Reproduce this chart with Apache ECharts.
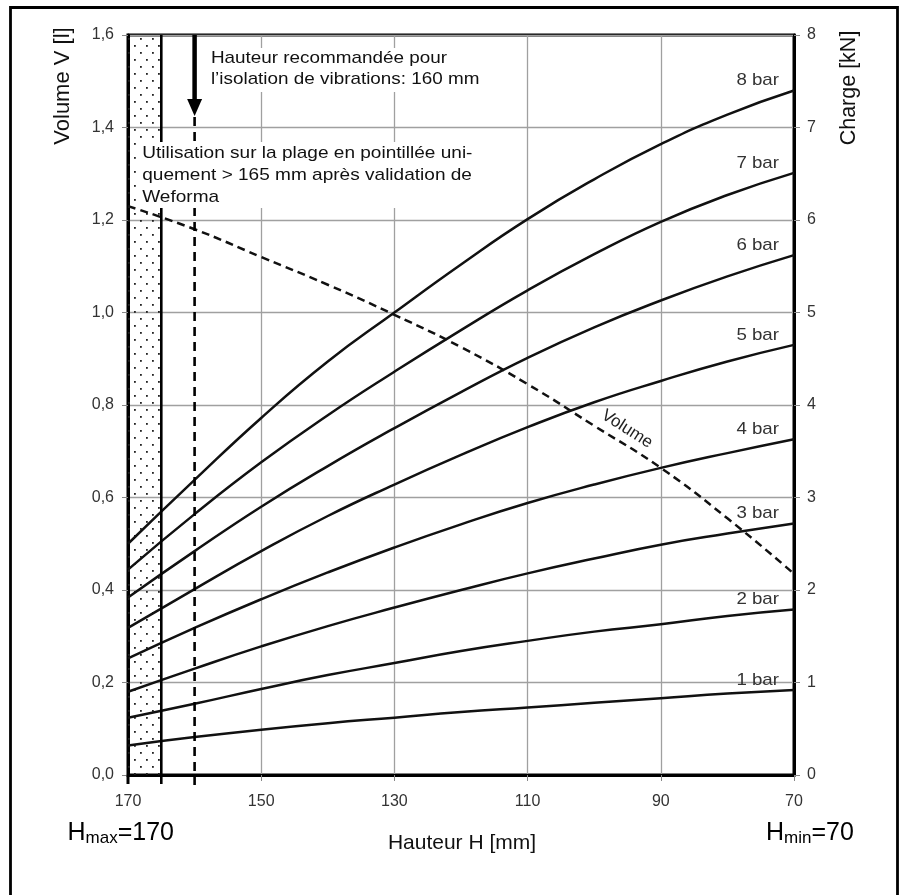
<!DOCTYPE html>
<html><head><meta charset="utf-8">
<script src="https://cdn.jsdelivr.net/npm/echarts@6/dist/echarts.min.js"></script>
<style>html,body{margin:0;padding:0;background:#fff}#c{width:900px;height:895px}</style>
</head><body><div id="c"></div>
<script>
// ---- data ----
const heights   = [170, 160, 150, 140, 130, 120, 110, 100, 90, 80, 70];           // Hauteur H [mm]
const load1bar  = [0.32, 0.41, 0.49, 0.56, 0.62, 0.68, 0.73, 0.78, 0.83, 0.88, 0.92]; // Charge [kN]
const load2bar  = [0.62, 0.77, 0.93, 1.08, 1.21, 1.34, 1.45, 1.55, 1.63, 1.72, 1.79];
const load3bar  = [0.90, 1.15, 1.39, 1.61, 1.81, 2.00, 2.18, 2.34, 2.49, 2.61, 2.72];
const load4bar  = [1.26, 1.59, 1.90, 2.19, 2.46, 2.71, 2.94, 3.14, 3.32, 3.48, 3.63];
const load5bar  = [1.59, 2.01, 2.42, 2.80, 3.14, 3.46, 3.76, 4.03, 4.26, 4.47, 4.65];
const load6bar  = [1.92, 2.42, 2.90, 3.34, 3.75, 4.14, 4.51, 4.84, 5.13, 5.39, 5.62];
const load7bar  = [2.22, 2.82, 3.38, 3.89, 4.36, 4.81, 5.24, 5.63, 5.98, 6.27, 6.51];
const load8bar  = [2.50, 3.19, 3.86, 4.47, 5.00, 5.52, 6.01, 6.44, 6.82, 7.14, 7.40];
const volume    = [1.23, 1.18, 1.12, 1.06, 0.995, 0.925, 0.845, 0.755, 0.664, 0.555, 0.435]; // Volume V [l]
const pressureLabels = ['1 bar', '2 bar', '3 bar', '4 bar', '5 bar', '6 bar', '7 bar', '8 bar'];
const xTickLabels = [170, 150, 130, 110, 90, 70];
const limitValidation = 165;   // dotted range 170..165
const recommendedHeight = 160; // arrow / dashed line

// ---- chart ----
const FONT = '"Liberation Sans", Arial, Helvetica, sans-serif';
const loads = [load1bar, load2bar, load3bar, load4bar, load5bar, load6bar, load7bar, load8bar];

const pc = document.createElement('canvas'); pc.width = 12; pc.height = 14;
const g = pc.getContext('2d'); g.fillStyle = '#222';
g.fillRect(2, 3, 1.8, 1.8); g.fillRect(8, 10, 1.8, 1.8);

const series = loads.map((arr, i) => ({
  type: 'line', name: pressureLabels[i], yAxisIndex: 1, smooth: 0.5,
  symbol: 'none', silent: true, z: 4,
  lineStyle: { color: '#111', width: 2.5 },
  data: heights.map((h, j) => [h, arr[j]])
}));
series.push({
  type: 'line', name: 'Volume', yAxisIndex: 0, smooth: 0.5,
  symbol: 'none', silent: true, z: 4,
  lineStyle: { color: '#111', width: 2.5, type: [8, 5] },
  data: heights.map((h, j) => [h, volume[j]]),
  markArea: { silent: true, itemStyle: { color: { image: pc, repeat: 'repeat' } },
    data: [[{ xAxis: heights[0] }, { xAxis: limitValidation }]] }
});

const chart = echarts.init(document.getElementById('c'), null, { renderer: 'canvas' });
const axisLabelBase = { fontFamily: FONT, fontSize: 16, color: '#333' };
chart.setOption({
  animation: false,
  backgroundColor: '#fff',
  grid: { left: 128, right: 106, top: 35, bottom: 120, show: true, borderColor: '#000', borderWidth: 3 },
  xAxis: {
    type: 'value', min: 70, max: 170, interval: 20, inverse: true,
    axisLine: { show: true, lineStyle: { color: '#000', width: 3 } },
    axisTick: { show: true, length: 6, lineStyle: { color: '#888', width: 1 } },
    axisLabel: Object.assign({ margin: 19, formatter: v => xTickLabels.includes(v) ? String(v) : '' }, axisLabelBase),
    splitLine: { show: true, lineStyle: { color: '#a0a0a0', width: 1.3 } }
  },
  yAxis: [
    { type: 'value', position: 'left', min: 0, max: 1.6, interval: 0.2,
      axisLine: { show: true, lineStyle: { color: '#000', width: 3 } },
      axisTick: { show: true, length: 6, lineStyle: { color: '#888', width: 1 } },
      axisLabel: Object.assign({ margin: 14, formatter: v => v.toFixed(1).replace('.', ',') }, axisLabelBase),
      splitLine: { show: true, lineStyle: { color: '#a0a0a0', width: 1.3 } } },
    { type: 'value', position: 'right', min: 0, max: 8, interval: 1,
      axisLine: { show: true, lineStyle: { color: '#000', width: 3 } },
      axisTick: { show: true, length: 6, lineStyle: { color: '#888', width: 1 } },
      axisLabel: Object.assign({ margin: 13 }, axisLabelBase),
      splitLine: { show: false } }
  ],
  series: series
});

// ---- annotations positioned through the chart's scales ----
const px = (x, y, yi) => chart.convertToPixel({ xAxisIndex: 0, yAxisIndex: yi || 0 }, [x, y]);
const [x170, yBot] = px(170, 0);
const [, yTop] = px(170, 1.6);
const [x165] = px(limitValidation, 0);
const [x160] = px(recommendedHeight, 0);
const [xRight] = px(70, 0);

const els = [];
els.push({ type: 'line', z: 50, shape: { x1: x165, y1: yTop, x2: x165, y2: yBot + 9 }, style: { stroke: '#000', lineWidth: 2.6 } });
els.push({ type: 'line', z: 50, shape: { x1: x170, y1: yBot, x2: x170, y2: yBot + 9 }, style: { stroke: '#000', lineWidth: 3 } });
els.push({ type: 'line', z: 50, shape: { x1: x160, y1: yTop + 82, x2: x160, y2: yBot + 10 }, style: { stroke: '#000', lineWidth: 2.6, lineDash: [9, 6] } });
els.push({ type: 'line', z: 50, shape: { x1: x160, y1: yTop, x2: x160, y2: yTop + 67 }, style: { stroke: '#000', lineWidth: 4.5 } });
els.push({ type: 'polygon', z: 50, shape: { points: [[x160 - 7.5, yTop + 64], [x160 + 7.5, yTop + 64], [x160, yTop + 81]] }, style: { fill: '#000' } });

pressureLabels.forEach((lab, i) => {
  const arr = loads[i];
  const [, ye] = px(70, arr[arr.length - 1], 1);
  els.push({ type: 'text', z: 60, x: xRight - 15, y: ye - 10, scaleX: 1.1,
    style: { text: lab, x: 0, y: 0, align: 'right', verticalAlign: 'middle', font: '17px ' + FONT, fill: '#333' } });
});

els.push({ type: 'text', z: 60, x: 627, y: 429, rotation: -0.57,
  style: { text: 'Volume', x: 0, y: 0, align: 'center', verticalAlign: 'middle', font: '17px ' + FONT, fill: '#222' } });

els.push({ type: 'text', z: 70, x: x160 + 13, y: 48, scaleX: 1.11,
  style: { text: 'Hauteur recommandée pour\nl’isolation de vibrations: 160 mm', x: 0, y: 0, align: 'left', verticalAlign: 'top', lineHeight: 21, font: '17px ' + FONT, fill: '#111', backgroundColor: '#fff', padding: [0, 3, 2, 3] } });
els.push({ type: 'text', z: 70, x: x170 + 12, y: 142, scaleX: 1.12,
  style: { text: 'Utilisation sur la plage en pointillée uni-\nquement > 165 mm après validation de\nWeforma', x: 0, y: 0, align: 'left', verticalAlign: 'top', lineHeight: 22, font: '17px ' + FONT, fill: '#111', backgroundColor: '#fff', padding: [0, 2, 0, 2] } });

els.push({ type: 'text', z: 60, x: 63, y: 86, rotation: Math.PI / 2,
  style: { text: 'Volume V [l]', x: 0, y: 0, align: 'center', verticalAlign: 'middle', font: '22px ' + FONT, fill: '#111' } });
els.push({ type: 'text', z: 60, x: 849, y: 88, rotation: Math.PI / 2,
  style: { text: 'Charge [kN]', x: 0, y: 0, align: 'center', verticalAlign: 'middle', font: '21.5px ' + FONT, fill: '#111' } });
els.push({ type: 'text', z: 60, style: { text: 'Hauteur H [mm]', x: 462, y: 843, align: 'center', verticalAlign: 'middle', font: '21px ' + FONT, fill: '#111' } });

const subRich = { h: { fontSize: 25, fontFamily: FONT, color: '#222' }, s: { fontSize: 17, fontFamily: FONT, color: '#222', padding: [11, 0, 0, 0] } };
els.push({ type: 'text', z: 60, style: { text: '{h|H}{s|max}{h|=170}', x: 174, y: 833, align: 'right', verticalAlign: 'middle', rich: subRich } });
els.push({ type: 'text', z: 60, style: { text: '{h|H}{s|min}{h|=70}', x: 766, y: 833, align: 'left', verticalAlign: 'middle', rich: subRich } });

els.push({ type: 'rect', z: 80, shape: { x: 10.5, y: 7.5, width: 887, height: 920 }, style: { fill: 'none', stroke: '#000', lineWidth: 2.8 } });

chart.setOption({ graphic: { elements: els } });
</script></body></html>
